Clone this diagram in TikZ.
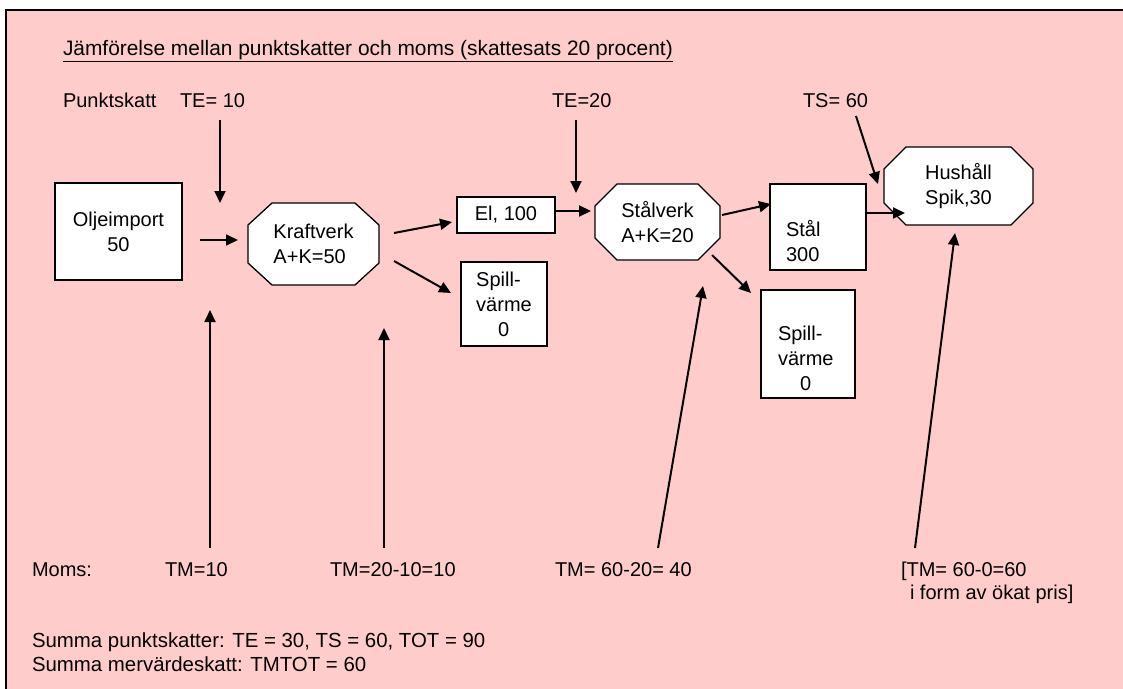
\documentclass[tikz,border=0pt]{standalone}
\usepackage{fontspec}
\setmainfont{Liberation Sans}
\usetikzlibrary{arrows.meta,backgrounds}
\definecolor{pinkbg}{HTML}{FFCCCC}
\newcommand\octoutline[3]{%
  \draw[octline] ([xshift=#2pt]#1.north west) -- ([xshift=-#2pt]#1.north east)
    -- ([yshift=-#3pt]#1.north east) -- ([yshift=#3pt]#1.south east)
    -- ([xshift=-#2pt]#1.south east) -- ([xshift=#2pt]#1.south west)
    -- ([yshift=#3pt]#1.south west) -- ([yshift=-#3pt]#1.north west) -- cycle;}
\begin{document}
\begin{tikzpicture}[x=1pt,y=-1pt,
  every node/.style={font=\fontsize{20}{25}\selectfont, inner sep=0pt, outer sep=0pt},
  lbl/.style={anchor=base west},
  box/.style={draw=black, line width=1.3pt, fill=white},
  octnode/.style={align=left},
  octline/.style={draw=black, line width=1.3pt, fill=white},
  arr/.style={line width=2pt, -{Triangle[length=12pt,width=11pt]}},
]
\useasboundingbox (0,0) rectangle (1123,688);

% boxes and shapes
\node[box, minimum width=127pt, minimum height=97pt, align=center] (olje) at (118.5,231.5) {Oljeimport\\50};
\node[octnode, minimum width=131pt, minimum height=82pt] (kraft) at (313.5,244) {Kraftverk\\A+K=50};
\node[box, minimum width=98pt, minimum height=36pt] (el) at (506,215) {El, 100};
\node[box, minimum width=86pt, minimum height=84pt, align=left] (spill1) at (504,304) {Spill-\\värme\\\hspace*{22pt}0};
\node[octnode, minimum width=125pt, minimum height=76pt] (stalverk) at (657.5,222) {Stålverk\\A+K=20};
\node[box, minimum width=96pt, minimum height=86pt] (stal) at (818,227) {};
\node[align=left, anchor=base west] (staltext) at (786,261) {Stål\\300};
\node[box, minimum width=94pt, minimum height=108pt] (spill2) at (808,344) {};
\node[align=left, anchor=base west] (spill2text) at (778,390) {Spill-\\värme\\\hspace*{22pt}0};
\node[octnode, minimum width=149pt, minimum height=78pt] (hush) at (958.5,186) {Hushåll\\Spik,30};

\begin{scope}[on background layer]
  \fill[pinkbg] (6,10) rectangle (1130,695);
  \draw[line width=2pt] (6,695) -- (6,10) -- (1130,10);
  \octoutline{kraft}{24}{22}
  \octoutline{stalverk}{22}{22}
  \octoutline{hush}{22}{22}
\end{scope}

% texts
\node[lbl, font=\fontsize{20.9}{25}\selectfont] (title) at (63,55) {\underline{Jämförelse mellan punktskatter och moms (skattesats 20 procent)}};
\node[lbl] (punkt) at (63,107) {Punktskatt};
\node[lbl] (te10) at (180,107) {TE= 10};
\node[lbl] (te20) at (552,107) {TE=20};
\node[lbl] (ts60) at (803,107) {TS= 60};
\node[lbl] (moms) at (32,576) {Moms:};
\node[lbl] (tm10) at (165,576) {TM=10};
\node[lbl] (tm2010) at (330,576) {TM=20-10=10};
\node[lbl] (tm6020) at (555,576) {TM= 60-20= 40};
\node[lbl] (tm600) at (901,576) {[TM= 60-0=60};
\node[lbl] (tm600b) at (910,599) {i form av ökat pris]};
\node[lbl, font=\fontsize{20.4}{25}\selectfont] (sum1) at (32,647) {Summa punktskatter: TE = 30, TS = 60, TOT = 90};
\node[lbl, font=\fontsize{20.4}{25}\selectfont] (sum2) at (32,671) {Summa mervärdeskatt: TMTOT = 60};

% arrow end points
\coordinate (a1s) at (220,120);  \coordinate (a1e) at (220,203);
\coordinate (a2s) at (200,240);  \coordinate (a2e) at (238,240);
\coordinate (a3s) at (394,233);  \coordinate (a3e) at (452,222);
\coordinate (a4s) at (394,261);  \coordinate (a4e) at (451,293);
\coordinate (a5s) at (210,548);  \coordinate (a5e) at (210,310);
\coordinate (a6s) at (384,548);  \coordinate (a6e) at (384,328);
\coordinate (a7s) at (555,211);  \coordinate (a7e) at (591,211);
\coordinate (a8s) at (576,120);  \coordinate (a8e) at (576,193);
\coordinate (a9s) at (722,215);  \coordinate (a9e) at (771,204);
\coordinate (a10s) at (712,255); \coordinate (a10e) at (751,293);
\coordinate (a11s) at (866,213); \coordinate (a11e) at (905,213);
\coordinate (a12s) at (856,116); \coordinate (a12e) at (878,184);
\coordinate (a13s) at (658,548); \coordinate (a13e) at (703,286);
\coordinate (a14s) at (915,548); \coordinate (a14e) at (955,233);

\draw[arr] (a1s) -- (a1e);
\draw[arr] (a2s) -- (a2e);
\draw[arr] (a3s) -- (a3e);
\draw[arr] (a4s) -- (a4e);
\draw[arr] (a5s) -- (a5e);
\draw[arr] (a6s) -- (a6e);
\draw[arr] (a7s) -- (a7e);
\draw[arr] (a8s) -- (a8e);
\draw[arr] (a9s) -- (a9e);
\draw[arr] (a10s) -- (a10e);
\draw[arr] (a11s) -- (a11e);
\draw[arr] (a12s) -- (a12e);
\draw[arr] (a13s) -- (a13e);
\draw[arr] (a14s) -- (a14e);
\end{tikzpicture}
\end{document}
